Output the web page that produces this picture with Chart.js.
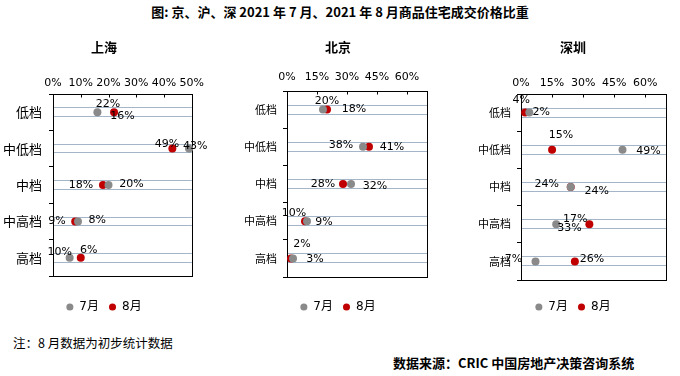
<!DOCTYPE html>
<html>
<head>
<meta charset="utf-8">
<script src="https://cdn.jsdelivr.net/npm/chart.js@4"></script>
<style>
  body { margin: 0; width: 680px; height: 376px; background: #fff; position: relative; overflow: hidden;
         font-family: 'Noto Sans CJK SC', sans-serif; color: #000; }
  canvas { position: absolute; top: 36px; }
  #title { position: absolute; top: 4px; left: 0; width: 680px; text-align: center; font-size: 13px;
           font-weight: bold; line-height: 16px; }
  #note { position: absolute; left: 13px; top: 335px; font-size: 12.5px; line-height: 16px; }
  #source { position: absolute; left: 393px; top: 355px; font-size: 13px; font-weight: bold; line-height: 16px; }
</style>
</head>
<body>
<div id="title">图: 京、沪、深 2021 年 7 月、2021 年 8 月商品住宅成交价格比重</div>
<canvas id="sh" width="208" height="287" style="left:0px"></canvas>
<canvas id="bj" width="196" height="287" style="left:240px"></canvas>
<canvas id="sz" width="206" height="287" style="left:470px"></canvas>
<div id="note">注：8 月数据为初步统计数据</div>
<div id="source">数据来源：CRIC 中国房地产决策咨询系统</div>
<script>
const categories = ['低档', '中低档', '中档', '中高档', '高档'];
const seriesNames = ['7月', '8月'];

// 上海 (%)
const shJul = [16, 49, 20, 9, 6];
const shAug = [22, 43, 18, 8, 10];
// 北京 (%)
const bjJul = [18, 38, 32, 10, 3];
const bjAug = [20, 41, 28, 9, 2];
// 深圳 (%)
const szJul = [4, 49, 24, 17, 7];
const szAug = [2, 15, 24, 33, 26];

const seriesColors = ['#8a8a8a', '#c00000'];
const GRID_COLOR = '#a3b5c7';
const GRID_OFF = 0.12;
const NUM_FONT = "'DejaVu Sans', 'Noto Sans CJK SC', sans-serif";
const CJK_FONT = "'Noto Sans CJK SC', sans-serif";

// layout + label offsets for each city panel
const panels = [
  { id: 'sh', city: '上海', jul: shJul, aug: shAug, xMax: 50, xStep: 10,
    yW: 53, rightW: 16, axisH: 39.4, tickPad: 4, yPad: 7, catSize: 13, gapH: 15,
    offs: [[[25, 4], [-22, -4], [23, -1], [-21, 0], [19, -8]],
           [[-6, -8.5], [23, -2], [-22, 0], [22, -1], [-21, -6]]] },
  { id: 'bj', city: '北京', jul: bjJul, aug: bjAug, xMax: 70, xStep: 15,
    yW: 47, rightW: 9, axisH: 36.4, tickPad: 7, yPad: 6, catSize: 11, gapH: 14,
    offs: [[[31, 0], [-22, -2], [24, 2], [-13, -8], [22, 1]],
           [[0, -8], [23, 0], [-20, 0], [19, 1], [11, -14]]] },
  { id: 'sz', city: '深圳', jul: szJul, aug: szAug, xMax: 70, xStep: 15,
    yW: 51, rightW: 10, axisH: 39.4, tickPad: 4, yPad: 6, catSize: 11, gapH: 11,
    offs: [[[-8, -12], [26, 1], [26, 4], [19, -5], [-22, -2]],
           [[16, 0], [9, -15], [-24, -3], [-20, 4], [17, -2]]] }
];

const isBoundary = v => Math.abs(v - Math.round(v)) < 1e-6;
const isCenter = v => Math.abs(v - Math.floor(v) - 0.5) < 1e-6;

const yTickVals = [0];
categories.forEach((c, i) => {
  yTickVals.push(i + 0.5 - GRID_OFF, i + 0.5, i + 0.5 + GRID_OFF, i + 1);
});

// black box round the plot, short inward ticks on the top axis
const framePlugin = {
  id: 'frame',
  beforeDatasetsDraw(chart) {
    const { ctx, chartArea: a, scales } = chart;
    const step = scales.x.options.ticks.stepSize;
    const l = Math.round(a.left) + 0.5, t = Math.round(a.top) + 0.5;
    const r = Math.round(a.right) + 0.5, b = Math.round(a.bottom) + 0.5;
    ctx.save();
    ctx.strokeStyle = '#000';
    ctx.lineWidth = 1;
    ctx.strokeRect(l, t, r - l, b - t);
    ctx.beginPath();
    scales.x.ticks.forEach(tk => {
      if (tk.value > 0 && tk.value % step === 0) {
        const px = Math.round(scales.x.getPixelForValue(tk.value)) + 0.5;
        ctx.moveTo(px, t);
        ctx.lineTo(px, t + 3);
      }
    });
    ctx.stroke();
    ctx.restore();
  }
};

function valueLabels(p) {
  return {
    id: 'valueLabels',
    afterDatasetsDraw(chart) {
      const ctx = chart.ctx;
      ctx.save();
      ctx.font = '11px ' + NUM_FONT;
      ctx.fillStyle = '#000';
      ctx.textAlign = 'center';
      ctx.textBaseline = 'middle';
      chart.data.datasets.forEach((ds, d) => {
        chart.getDatasetMeta(d).data.forEach((el, i) => {
          const [dx, dy] = p.offs[d][i];
          ctx.fillText(ds.data[i].x + '%', el.x + dx, el.y + dy);
        });
      });
      ctx.restore();
    }
  };
}

function makeChart(p) {
  const series = [p.jul, p.aug];
  new Chart(document.getElementById(p.id), {
    type: 'scatter',
    data: {
      datasets: series.map((vals, d) => ({
        label: seriesNames[d],
        data: vals.map((v, i) => ({ x: v, y: i + 0.5 })),
        backgroundColor: seriesColors[d],
        borderWidth: 0,
        pointRadius: 4,
        pointHoverRadius: 4,
        clip: false
      }))
    },
    options: {
      responsive: false,
      animation: false,
      events: [],
      layout: { padding: 0 },
      plugins: {
        title: { display: true, text: p.city, color: '#000',
                 font: { family: CJK_FONT, size: 13, weight: 'bold' }, padding: { top: 3, bottom: 0 } },
        legend: { display: true, position: 'bottom',
                  labels: { usePointStyle: true, pointStyle: 'circle', boxWidth: 7, boxHeight: 5,
                            padding: 10, color: '#000', font: { family: NUM_FONT, size: 12 } } },
        tooltip: { enabled: false }
      },
      scales: {
        x: {
          type: 'linear', position: 'top', min: 0, max: p.xMax,
          ticks: { stepSize: p.xStep, padding: p.tickPad, color: '#000', maxRotation: 0, autoSkip: false,
                   font: { family: NUM_FONT, size: 11 },
                   callback: v => (v % p.xStep === 0 ? v + '%' : '') },
          grid: { drawOnChartArea: false, drawTicks: false },
          border: { display: false },
          afterFit: s => { s.height = p.axisH; }
        },
        xb: {
          type: 'linear', position: 'bottom',
          ticks: { display: false }, grid: { display: false }, border: { display: false },
          afterFit: s => { s.height = p.gapH; }
        },
        y: {
          type: 'linear', reverse: true, min: 0, max: 5,
          afterBuildTicks: s => { s.ticks = yTickVals.map(v => ({ value: v })); },
          ticks: { autoSkip: false, padding: p.yPad, color: '#000',
                   font: { family: CJK_FONT, size: p.catSize },
                   callback: v => (isCenter(v) ? categories[Math.floor(v)] : '') },
          grid: {
            lineWidth: 1, tickLength: 4,
            color: c => (c.tick && !isBoundary(c.tick.value) && !isCenter(c.tick.value) ? GRID_COLOR : 'rgba(0,0,0,0)'),
            tickColor: c => (c.tick && isBoundary(c.tick.value) ? '#000' : 'rgba(0,0,0,0)')
          },
          border: { display: false },
          afterFit: s => { s.width = p.yW; }
        },
        yr: {
          type: 'linear', position: 'right',
          ticks: { display: false }, grid: { display: false }, border: { display: false },
          afterFit: s => { s.width = p.rightW; }
        }
      }
    },
    plugins: [framePlugin, valueLabels(p)]
  });
}

panels.forEach(makeChart);
</script>
</body>
</html>
